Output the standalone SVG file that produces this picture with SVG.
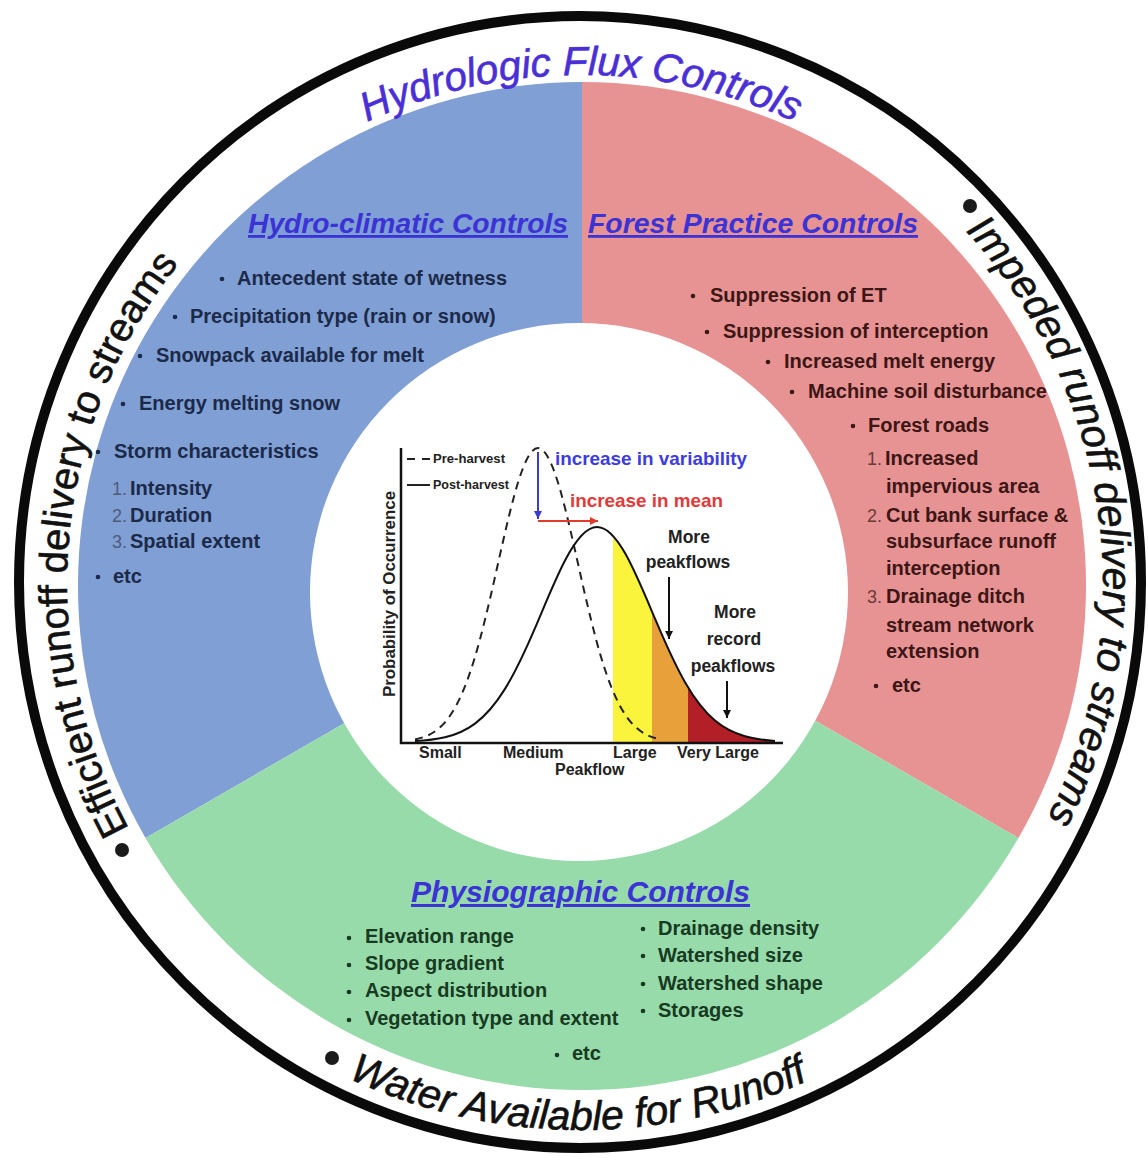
<svg xmlns="http://www.w3.org/2000/svg" width="1148" height="1158" viewBox="0 0 1148 1158">
<style>
.ring{fill:none;stroke:#0a0a0a;stroke-width:10}
.arc{font-family:"Liberation Sans",Arial,sans-serif;font-size:40px;fill:#111;stroke:#111;stroke-width:0.6}
.ttl{font-style:italic;fill:#4a2fd6;stroke:#4a2fd6}
.sec{font-family:"Liberation Sans",Arial,sans-serif;font-weight:bold;font-style:italic;font-size:28px;fill:#3b33d6;text-decoration:underline}
.li{font-family:"Liberation Sans",Arial,sans-serif;font-weight:bold;font-size:20px}
.b{fill:#1c2a4a}
.r{fill:#3d1616}
.g{fill:#173a22}
.num{font-family:"Liberation Sans",Arial,sans-serif;font-size:18px}
.nb{fill:#4d5b7c}
.nr{fill:#6a3a3a}
.ch{font-family:"Liberation Sans",Arial,sans-serif;font-weight:bold;fill:#222}
.bd{fill:#1c2a4a}
.rd{fill:#3d1616}
.gd{fill:#173a22}
.big{fill:#1a1a1a}
.curve{fill:none;stroke:#111;stroke-width:2}
.dash{fill:none;stroke:#222;stroke-width:2;stroke-dasharray:8,6}
.axis{fill:none;stroke:#111;stroke-width:2.5}
</style>
<defs>
<path id="pTop" d="M72,584 A509,509 0 0 1 1090,584"/>
<path id="pLeft" d="M581,1098 A514,514 0 0 1 581,70"/>
<path id="pRight" d="M581,62 A522,522 0 0 1 581,1106"/>
<path id="pBot" d="M35,584 A546,546 0 0 0 1127,584"/>
<marker id="mBlue" viewBox="0 0 10 10" refX="10" refY="5" markerWidth="4" markerHeight="4" orient="auto"><path d="M0,0 L10,5 L0,10 Z" fill="#3b3bd0"/></marker>
<marker id="mRed" viewBox="0 0 10 10" refX="10" refY="5" markerWidth="4" markerHeight="4" orient="auto"><path d="M0,0 L10,5 L0,10 Z" fill="#e23b2b"/></marker>
<marker id="mBlk" viewBox="0 0 10 10" refX="10" refY="5" markerWidth="4" markerHeight="4" orient="auto"><path d="M0,0 L10,5 L0,10 Z" fill="#111"/></marker>
<clipPath id="under"><path d="M415,741.1 C425,740.56 435,739.66 445,737.3 C455,734.94 465,731.02 475,723.6 C485,716.18 495,705.05 505,688.9 C515,672.75 525,651.44 535,628.1 C545,604.76 555,579.7 565,560.5 C575.67,540.02 586.33,527 597,527 C606.33,527 615.67,536.79 625,553.1 C635,570.58 645,595.06 655,618.7 C665,642.34 675,664.8 685,682.2 C695,699.6 705,712.11 715,720.5 C725,728.89 735,733.36 745,736.2 C755,739.04 765,740.25 775,740.9 L775,742 L415,742 Z"/></clipPath>
</defs>

<rect width="1148" height="1158" fill="#ffffff"/>

<g id="sectors">
<path id="sec-hydroclimatic" d="M582,586 L582,82 A504,504 0 0 0 145.5,838 Z" fill="#809fd4"/>
<path id="sec-forest" d="M582,586 L582,82 A504,504 0 0 1 1018.5,838 Z" fill="#e79393"/>
<path id="sec-physiographic" d="M582,586 L145.5,838 A504,504 0 0 0 1018.5,838 Z" fill="#98dbab"/>
<circle id="center-disk" cx="579" cy="592" r="269" fill="#ffffff"/>
</g>

<g id="outer-ring">
<ellipse class="ring" cx="580" cy="582" rx="561" ry="566"/>
<text class="arc ttl" style="font-size:40.5px"><textPath href="#pTop" startOffset="50%" text-anchor="middle">Hydrologic Flux Controls</textPath></text>
<circle class="big" cx="122" cy="850" r="7"/>
<text class="arc"><textPath href="#pLeft" startOffset="552">Efficient runoff delivery to streams</textPath></text>
<circle class="big" cx="970" cy="206" r="7"/>
<text class="arc" style="font-style:italic;font-size:41px"><textPath href="#pRight" startOffset="432">Impeded runoff delivery to streams</textPath></text>
<circle class="big" cx="332" cy="1058" r="7"/>
<text class="arc" style="font-style:italic;font-size:41px"><textPath href="#pBot" startOffset="617">Water Available for Runoff</textPath></text>
</g>

<g id="hydroclimatic-controls">
<text class="sec" x="248" y="233" textLength="320" lengthAdjust="spacingAndGlyphs">Hydro-climatic Controls</text>
<g class="bd">
<circle cx="222" cy="279" r="2.3"/>
<circle cx="175" cy="317" r="2.3"/>
<circle cx="140" cy="356" r="2.3"/>
<circle cx="123" cy="404" r="2.3"/>
<circle cx="98" cy="452" r="2.3"/>
<circle cx="98" cy="577" r="2.3"/>
</g>
<g class="num nb">
<text x="112" y="495">1.</text>
<text x="112" y="522">2.</text>
<text x="112" y="548">3.</text>
</g>
<g class="li b">
<text x="237" y="285">Antecedent state of wetness</text>
<text x="190" y="323">Precipitation type (rain or snow)</text>
<text x="156" y="362">Snowpack available for melt</text>
<text x="139" y="410">Energy melting snow</text>
<text x="114" y="458">Storm characteristics</text>
<text x="130" y="495">Intensity</text>
<text x="130" y="522">Duration</text>
<text x="130" y="548">Spatial extent</text>
<text x="113" y="583">etc</text>
</g>
</g>

<g id="forest-practice-controls">
<text class="sec" x="588" y="233" textLength="330" lengthAdjust="spacingAndGlyphs">Forest Practice Controls</text>
<g class="rd">
<circle cx="693" cy="296" r="2.3"/>
<circle cx="707" cy="332" r="2.3"/>
<circle cx="768" cy="362" r="2.3"/>
<circle cx="792" cy="392" r="2.3"/>
<circle cx="853" cy="426" r="2.3"/>
<circle cx="876" cy="686" r="2.3"/>
</g>
<g class="num nr">
<text x="867" y="465">1.</text>
<text x="867" y="522">2.</text>
<text x="867" y="603">3.</text>
</g>
<g class="li r">
<text x="710" y="302">Suppression of ET</text>
<text x="723" y="338">Suppression of interception</text>
<text x="784" y="368">Increased melt energy</text>
<text x="808" y="398">Machine soil disturbance</text>
<text x="868" y="432">Forest roads</text>
<text x="885" y="465">Increased</text>
<text x="886" y="493">impervious area</text>
<text x="886" y="522">Cut bank surface &amp;</text>
<text x="886" y="548">subsurface runoff</text>
<text x="886" y="575">interception</text>
<text x="886" y="603">Drainage ditch</text>
<text x="886" y="632">stream network</text>
<text x="886" y="658">extension</text>
<text x="892" y="692">etc</text>
</g>
</g>

<g id="physiographic-controls">
<text class="sec" x="411" y="902" textLength="339" lengthAdjust="spacingAndGlyphs" style="font-size:29.5px">Physiographic Controls</text>
<g class="gd">
<circle cx="349" cy="938" r="2.3"/>
<circle cx="349" cy="965" r="2.3"/>
<circle cx="349" cy="992" r="2.3"/>
<circle cx="349" cy="1020" r="2.3"/>
<circle cx="643" cy="929" r="2.3"/>
<circle cx="643" cy="956" r="2.3"/>
<circle cx="643" cy="984" r="2.3"/>
<circle cx="643" cy="1011" r="2.3"/>
<circle cx="557" cy="1055" r="2.3"/>
</g>
<g class="li g">
<text x="365" y="943">Elevation range</text>
<text x="365" y="970">Slope gradient</text>
<text x="365" y="997">Aspect distribution</text>
<text x="365" y="1025">Vegetation type and extent</text>
<text x="658" y="935">Drainage density</text>
<text x="658" y="962">Watershed size</text>
<text x="658" y="990">Watershed shape</text>
<text x="658" y="1017">Storages</text>
<text x="572" y="1060">etc</text>
</g>
</g>

<g id="peakflow-chart">
<g clip-path="url(#under)">
<rect x="613" y="500" width="39" height="245" fill="#fbf43c"/>
<rect x="652" y="500" width="36" height="245" fill="#e8a03a"/>
<rect x="688" y="500" width="95" height="245" fill="#b21f27"/>
</g>
<path class="dash" d="M415,739.4 C425,737.4 435,733.75 445,722.3 C455,710.85 465,690.41 475,656.9 C481.67,634.56 488.33,606.56 495,577 C501.67,547.44 508.33,516.68 515,492.8 C522.67,465.34 530.33,448 538,448 C545.67,448 553.33,465.34 561,492.8 C567.67,516.68 574.33,547.44 581,577 C587.67,606.56 594.33,634.56 601,656.9 C611,690.41 621,710.85 631,722.3 C641,733.75 651,737.4 661,739.4"/>
<path class="curve" d="M415,741.1 C425,740.56 435,739.66 445,737.3 C455,734.94 465,731.02 475,723.6 C485,716.18 495,705.05 505,688.9 C515,672.75 525,651.44 535,628.1 C545,604.76 555,579.7 565,560.5 C575.67,540.02 586.33,527 597,527 C606.33,527 615.67,536.79 625,553.1 C635,570.58 645,595.06 655,618.7 C665,642.34 675,664.8 685,682.2 C695,699.6 705,712.11 715,720.5 C725,728.89 735,733.36 745,736.2 C755,739.04 765,740.25 775,740.9"/>
<path class="axis" d="M401,448 L401,743 L783,743"/>
<line x1="407" y1="459" x2="430" y2="459" stroke="#222" stroke-width="2" stroke-dasharray="8,7"/>
<line x1="407" y1="485" x2="430" y2="485" stroke="#222" stroke-width="2"/>
<text class="ch" x="433" y="463" font-size="12" textLength="72" lengthAdjust="spacingAndGlyphs">Pre-harvest</text>
<text class="ch" x="433" y="489" font-size="12" textLength="76" lengthAdjust="spacingAndGlyphs">Post-harvest</text>
<text class="ch" transform="translate(395,594) rotate(-90)" text-anchor="middle" font-size="16" textLength="206" lengthAdjust="spacingAndGlyphs">Probability of Occurrence</text>
<text class="ch" font-size="16" x="419" y="758">Small</text>
<text class="ch" font-size="16" x="503" y="758">Medium</text>
<text class="ch" font-size="16" x="613" y="758">Large</text>
<text class="ch" font-size="16" x="677" y="758">Very Large</text>
<text class="ch" font-size="16" x="555" y="775">Peakflow</text>
<text class="ch" x="555" y="465" font-size="18.5" style="fill:#3c3ce0" textLength="192" lengthAdjust="spacingAndGlyphs">increase in variability</text>
<text class="ch" x="570" y="507" font-size="18.5" style="fill:#e2393b" textLength="153" lengthAdjust="spacingAndGlyphs">increase in mean</text>
<text class="ch" font-size="17.5" text-anchor="middle" x="689" y="543">More</text>
<text class="ch" font-size="17.5" text-anchor="middle" x="688" y="568">peakflows</text>
<text class="ch" font-size="17.5" text-anchor="middle" x="735" y="618">More</text>
<text class="ch" font-size="17.5" text-anchor="middle" x="734" y="645">record</text>
<text class="ch" font-size="17.5" text-anchor="middle" x="733" y="672">peakflows</text>
</g>

<g id="connectors">
<line x1="538" y1="452" x2="538" y2="519" stroke="#3b3bd0" stroke-width="2" marker-end="url(#mBlue)"/>
<line x1="538" y1="521" x2="598" y2="521" stroke="#e23b2b" stroke-width="2" marker-end="url(#mRed)"/>
<line x1="669" y1="577" x2="669" y2="639" stroke="#111" stroke-width="2" marker-end="url(#mBlk)"/>
<line x1="727" y1="681" x2="727" y2="718" stroke="#111" stroke-width="2" marker-end="url(#mBlk)"/>
</g>
</svg>
